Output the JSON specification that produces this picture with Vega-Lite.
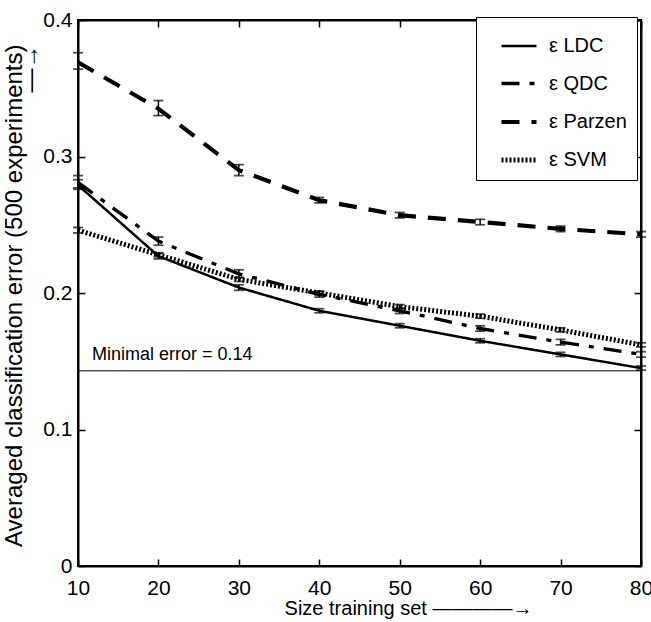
{
  "$schema": "https://vega.github.io/schema/vega-lite/v6.json",
  "width": 563,
  "height": 546,
  "autosize": "none",
  "padding": {"left": 78, "top": 20, "right": 10, "bottom": 56},
  "background": "white",
  "config": {
    "view": {"stroke": "black", "strokeWidth": 2},
    "font": "Liberation Sans",
    "axis": {"domainColor": "black", "domainWidth": 2, "tickColor": "black", "tickWidth": 1.5, "grid": false, "labelColor": "black", "titleColor": "black", "titleFontWeight": "normal"}
  },
  "datasets": {
    "curves": [
      {"series": "ε LDC", "x": 10, "y": 0.279, "lo": 0.276, "hi": 0.283},
      {"series": "ε LDC", "x": 20, "y": 0.227, "lo": 0.225, "hi": 0.229},
      {"series": "ε LDC", "x": 30, "y": 0.204, "lo": 0.202, "hi": 0.206},
      {"series": "ε LDC", "x": 40, "y": 0.187, "lo": 0.1855, "hi": 0.1885},
      {"series": "ε LDC", "x": 50, "y": 0.176, "lo": 0.1745, "hi": 0.1775},
      {"series": "ε LDC", "x": 60, "y": 0.165, "lo": 0.1635, "hi": 0.1665},
      {"series": "ε LDC", "x": 70, "y": 0.155, "lo": 0.1535, "hi": 0.1565},
      {"series": "ε LDC", "x": 80, "y": 0.145, "lo": 0.1435, "hi": 0.1465},
      {"series": "ε QDC", "x": 10, "y": 0.281, "lo": 0.277, "hi": 0.286},
      {"series": "ε QDC", "x": 20, "y": 0.238, "lo": 0.235, "hi": 0.241},
      {"series": "ε QDC", "x": 30, "y": 0.214, "lo": 0.211, "hi": 0.217},
      {"series": "ε QDC", "x": 40, "y": 0.199, "lo": 0.197, "hi": 0.201},
      {"series": "ε QDC", "x": 50, "y": 0.187, "lo": 0.185, "hi": 0.189},
      {"series": "ε QDC", "x": 60, "y": 0.174, "lo": 0.172, "hi": 0.176},
      {"series": "ε QDC", "x": 70, "y": 0.164, "lo": 0.162, "hi": 0.166},
      {"series": "ε QDC", "x": 80, "y": 0.155, "lo": 0.153, "hi": 0.157},
      {"series": "ε Parzen", "x": 10, "y": 0.369, "lo": 0.364, "hi": 0.376},
      {"series": "ε Parzen", "x": 20, "y": 0.335, "lo": 0.330, "hi": 0.341},
      {"series": "ε Parzen", "x": 30, "y": 0.290, "lo": 0.286, "hi": 0.294},
      {"series": "ε Parzen", "x": 40, "y": 0.268, "lo": 0.266, "hi": 0.270},
      {"series": "ε Parzen", "x": 50, "y": 0.257, "lo": 0.255, "hi": 0.259},
      {"series": "ε Parzen", "x": 60, "y": 0.252, "lo": 0.250, "hi": 0.254},
      {"series": "ε Parzen", "x": 70, "y": 0.247, "lo": 0.245, "hi": 0.249},
      {"series": "ε Parzen", "x": 80, "y": 0.243, "lo": 0.241, "hi": 0.245},
      {"series": "ε SVM", "x": 10, "y": 0.246, "lo": 0.244, "hi": 0.248},
      {"series": "ε SVM", "x": 20, "y": 0.228, "lo": 0.2265, "hi": 0.2295},
      {"series": "ε SVM", "x": 30, "y": 0.210, "lo": 0.2085, "hi": 0.2115},
      {"series": "ε SVM", "x": 40, "y": 0.200, "lo": 0.1985, "hi": 0.2015},
      {"series": "ε SVM", "x": 50, "y": 0.190, "lo": 0.1885, "hi": 0.1915},
      {"series": "ε SVM", "x": 60, "y": 0.183, "lo": 0.1815, "hi": 0.1845},
      {"series": "ε SVM", "x": 70, "y": 0.173, "lo": 0.1715, "hi": 0.1745},
      {"series": "ε SVM", "x": 80, "y": 0.162, "lo": 0.1605, "hi": 0.1635}
    ],
    "minimal": [
      {"y": 0.143, "x": 10, "label": "Minimal error = 0.14"}
    ]
  },
  "layer": [
    {
      "data": {"name": "curves"},
      "mark": {"type": "line", "color": "black", "strokeCap": "butt", "clip": true},
      "encoding": {
        "x": {"field": "x", "type": "quantitative", "scale": {"domain": [10, 80], "nice": false},
          "axis": {"orient": "bottom", "values": [10, 20, 30, 40, 50, 60, 70, 80], "tickSize": -7, "labelPadding": 18, "labelFontSize": 21, "labelFlush": false,
            "title": "Size training set  ————→", "titleFontSize": 20, "titleX": 330, "titleY": 48, "titleBaseline": "alphabetic"}},
        "y": {"field": "y", "type": "quantitative", "scale": {"domain": [0, 0.4], "nice": false},
          "axis": {"orient": "left", "values": [0, 0.1, 0.2, 0.3, 0.4], "tickSize": -7, "labelPadding": 13, "labelFontSize": 21,
            "labelExpr": "datum.value == 0 ? '0' : format(datum.value, '.1f')",
            "title": ["Averaged classification error (500 experiments)\u00a0\u00a0\u00a0", "—→"], "titleFontSize": 24, "titleLineHeight": 16, "titleX": -57, "titleY": 24, "titleAngle": -90, "titleAlign": "right", "titleBaseline": "alphabetic"}},
        "strokeDash": {"field": "series", "type": "nominal",
          "scale": {"domain": ["ε LDC", "ε QDC", "ε Parzen", "ε SVM"], "range": [[1, 0], [18, 10, 5, 10], [18, 12], [2, 2]]},
          "legend": {"orient": "none", "legendX": 398, "legendY": -3, "title": null, "strokeColor": "black", "fillColor": "white", "padding": 10, "rowPadding": 8, "labelFontSize": 20, "symbolSize": 1225, "symbolType": "stroke", "symbolOffset": 13, "labelOffset": 10}},
        "strokeWidth": {"field": "series", "type": "nominal",
          "scale": {"domain": ["ε LDC", "ε QDC", "ε Parzen", "ε SVM"], "range": [2.5, 5, 5, 1.8]},
          "legend": {"orient": "none", "legendX": 398, "legendY": -3, "title": null, "strokeColor": "black", "fillColor": "white", "padding": 10, "rowPadding": 8, "labelFontSize": 20, "symbolSize": 1225, "symbolType": "stroke", "symbolOffset": 13, "labelOffset": 10}},
        "order": {"field": "x", "type": "quantitative"}
      }
    },
    {
      "data": {"name": "curves"},
      "mark": {"type": "rule", "color": "black", "strokeWidth": 1.5},
      "encoding": {
        "x": {"field": "x", "type": "quantitative", "axis": null},
        "y": {"field": "lo", "type": "quantitative", "axis": null},
        "y2": {"field": "hi"}
      }
    },
    {
      "data": {"name": "curves"},
      "mark": {"type": "tick", "orient": "horizontal", "color": "black", "size": 10, "thickness": 1.8},
      "encoding": {
        "x": {"field": "x", "type": "quantitative", "axis": null},
        "y": {"field": "lo", "type": "quantitative", "axis": null}
      }
    },
    {
      "data": {"name": "curves"},
      "mark": {"type": "tick", "orient": "horizontal", "color": "black", "size": 10, "thickness": 1.8},
      "encoding": {
        "x": {"field": "x", "type": "quantitative", "axis": null},
        "y": {"field": "hi", "type": "quantitative", "axis": null}
      }
    },
    {
      "data": {"name": "minimal"},
      "mark": {"type": "rule", "color": "black", "strokeWidth": 1},
      "encoding": {
        "y": {"field": "y", "type": "quantitative",
          "axis": {"orient": "right", "values": [0, 0.1, 0.2, 0.3, 0.4], "tickSize": -7, "labels": false, "title": null, "domainWidth": 2}}
      }
    },
    {
      "data": {"name": "minimal"},
      "mark": {"type": "text", "align": "left", "baseline": "alphabetic", "dx": 14, "dy": -11, "fontSize": 18, "font": "Liberation Sans", "color": "black"},
      "encoding": {
        "x": {"field": "x", "type": "quantitative",
          "axis": {"orient": "top", "values": [10, 20, 30, 40, 50, 60, 70, 80], "tickSize": -7, "labels": false, "title": null, "domainWidth": 2}},
        "y": {"field": "y", "type": "quantitative", "axis": null},
        "text": {"field": "label"}
      }
    }
  ],
  "resolve": {"axis": {"x": "independent", "y": "independent"}}
}
